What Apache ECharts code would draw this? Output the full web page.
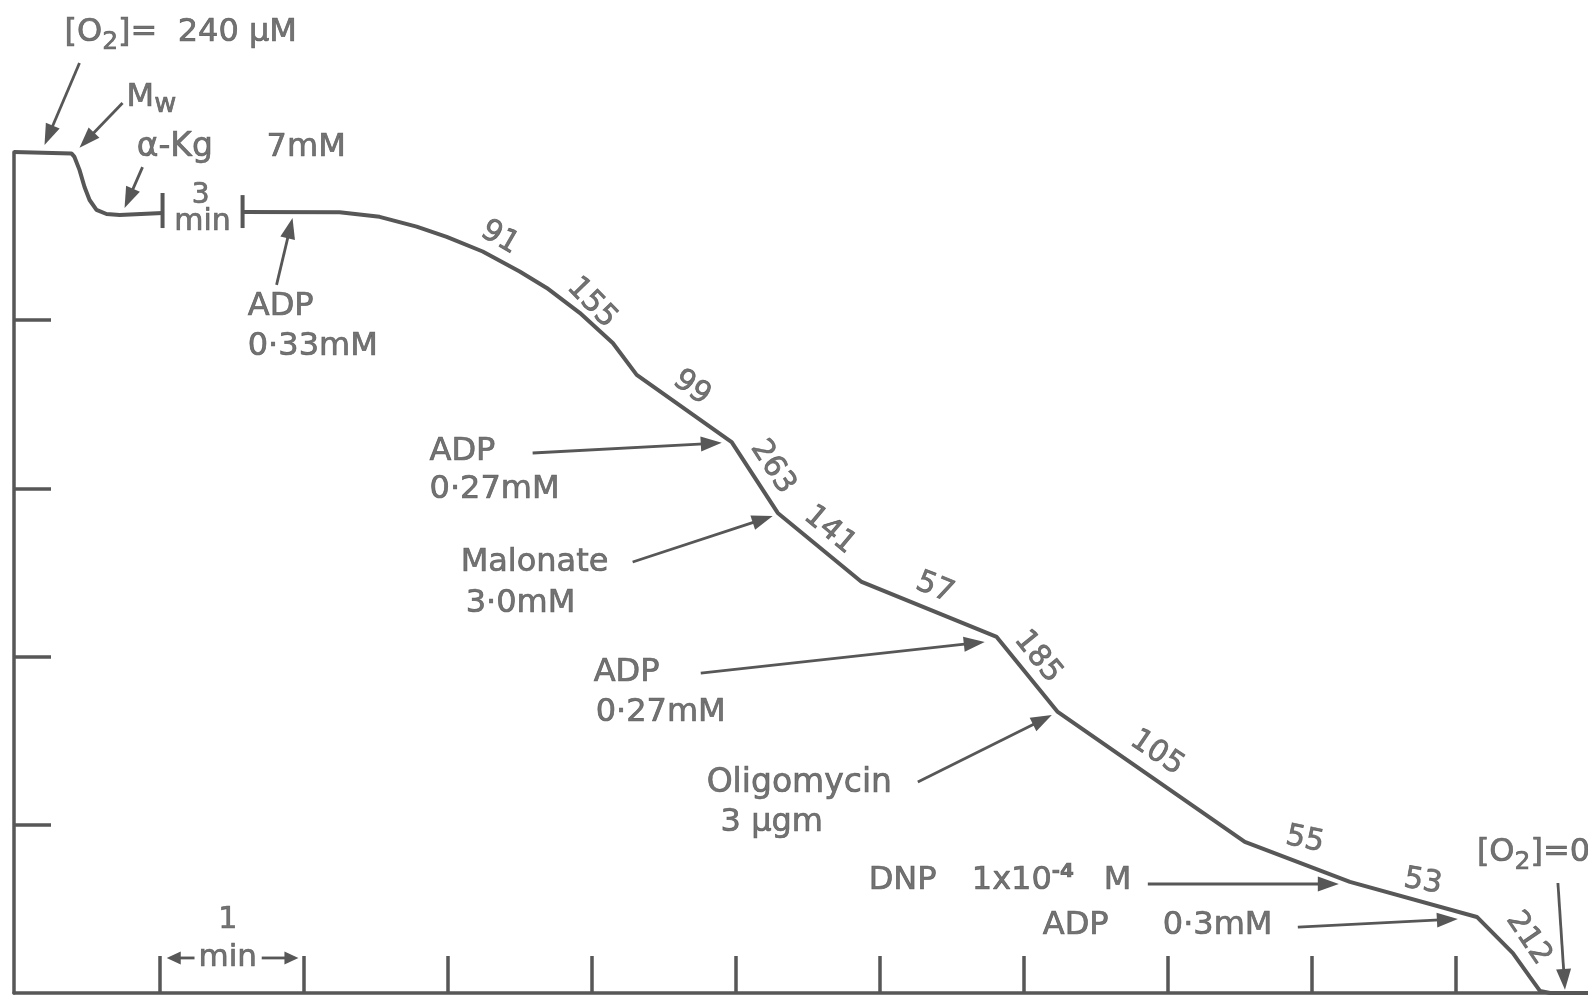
<!DOCTYPE html>
<html>
<head>
<meta charset="utf-8">
<script src="https://cdn.jsdelivr.net/npm/echarts@6/dist/echarts.min.js"></script>
<style>
  html, body { margin: 0; padding: 0; background: #ffffff; }
  #chart { width: 1588px; height: 996px; }
</style>
</head>
<body>
<div id="chart"></div>
<script>
// Oxygen electrode trace: [O2] (µM) against time (min), with additions and rates.

// axis marks
const minuteTicks = [0, 1, 2, 3, 4, 5, 6, 7, 8, 9];
const o2Ticks = [48, 96, 144, 192];

// trace before the 3-minute gap (air-saturated medium, Mw, α-Kg)
const traceBefore = [
  [-1.016, 240], [-0.617, 239.6], [-0.596, 238.6], [-0.561, 234.9], [-0.526, 230.0],
  [-0.491, 226.3], [-0.443, 223.5], [-0.373, 222.3], [-0.282, 222.0], [0.016, 222.6]
];

// trace after the gap (ADP, malonate, oligomycin, DNP additions)
const traceAfter = [
  [0.572, 222.9], [1.246, 222.8], [1.524, 221.5], [1.781, 218.7], [1.990, 215.8],
  [2.240, 211.6], [2.497, 205.9], [2.685, 201.2], [2.914, 194.1], [3.144, 185.5],
  [3.310, 176.4], [3.970, 157.2], [4.290, 137.0], [4.873, 117.3], [5.811, 101.6],
  [6.235, 80.2], [7.535, 43.1], [8.265, 31.7], [9.147, 21.7], [9.397, 11.4],
  [9.515, 4.6], [9.585, 0.6], [9.655, 0], [9.919, 0]
];

// end bars of the 3-minute gap: [time, low, high]
const gapBars = [[0.016, 218.3, 228.3], [0.572, 218.3, 227.7]];

// respiration rates written along the trace
const rateValues = [91, 155, 99, 263, 141, 57, 185, 105, 55, 53, 212];
const rateSpots = [
  [2.358, 215.5, -30], [2.997, 196.9, -46], [3.692, 172.7, -36], [4.255, 150.1, -57],
  [4.651, 132.1, -40], [5.381, 115.6, -22], [6.097, 95.9, -51], [6.924, 68.5, -34],
  [7.952, 43.7, -12], [8.772, 31.7, -10], [9.505, 15.6, -56]
];

// annotation texts and where they sit: [time, O2, align, size]
const noteTexts = [
  '[O{s|2}]=  240 µM', 'M{w|w}', 'α-Kg', '7mM', '3', 'min',
  'ADP', '0·33mM', 'ADP', '0·27mM', 'Malonate', '3·0mM',
  'ADP', '0·27mM', 'Oligomycin', '3 µgm',
  'DNP', '1x10{p|-4}', 'M', 'ADP', '0·3mM', '[O{s|2}]=0',
  '1', 'min'
];
const noteSpots = [
  [-0.665, 274.0, 'left', 32], [-0.234, 255.4, 'left', 32], [-0.164, 241.2, 'left', 33], [0.739, 241.2, 'left', 32],
  [0.280, 227.4, 'center', 28], [0.294, 220.0, 'center', 30],
  [0.608, 195.8, 'left', 32], [0.608, 184.4, 'left', 32],
  [1.871, 154.4, 'left', 32], [1.871, 143.6, 'left', 32],
  [2.087, 122.7, 'left', 32], [2.122, 111.0, 'left', 32],
  [3.011, 91.3, 'left', 32], [3.025, 79.9, 'left', 32],
  [3.796, 59.9, 'left', 33], [3.893, 48.5, 'left', 32],
  [4.922, 32.0, 'left', 32], [5.638, 32.0, 'left', 32], [6.555, 32.0, 'left', 32],
  [6.131, 19.1, 'left', 32], [6.965, 19.1, 'left', 32],
  [9.147, 40.0, 'left', 32],
  [0.469, 20.8, 'center', 30], [0.469, 10.0, 'center', 31]
];

// pointer arrows: [fromTime, fromO2, toTime, toO2]
const pointers = [
  [-0.561, 265.4, -0.804, 242.0],
  [-0.262, 254.0, -0.561, 241.2],
  [-0.123, 235.7, -0.248, 224.0],
  [0.808, 202.1, 0.919, 221.2],
  [2.587, 154.1, 3.901, 157.0],
  [3.282, 123.0, 4.255, 136.1],
  [3.755, 91.3, 5.728, 100.2],
  [5.263, 60.2, 6.194, 79.3],
  [6.861, 31.1, 8.188, 31.1],
  [7.903, 18.8, 9.015, 21.1],
  [9.710, 31.4, 9.759, 0.9]
];
// the small arrows of the 1-min scale bar
const scaleArrows = [
  [0.238, 10.0, 0.045, 10.0],
  [0.705, 10.0, 0.960, 10.0]
];

const INK = '#575757';
const TEXT = '#505050';
const FONT = 'DejaVu Sans';

function arrowRenderer(head, half, width) {
  return function (params, api) {
    const a = api.coord([api.value(0), api.value(1)]);
    const b = api.coord([api.value(2), api.value(3)]);
    const dx = b[0] - a[0], dy = b[1] - a[1];
    const len = Math.hypot(dx, dy) || 1;
    const ux = dx / len, uy = dy / len;
    const bx = b[0] - ux * head, by = b[1] - uy * head;
    return {
      type: 'group',
      children: [
        { type: 'line', shape: { x1: a[0], y1: a[1], x2: bx + ux * 3, y2: by + uy * 3 },
          style: { stroke: INK, lineWidth: width } },
        { type: 'polygon',
          shape: { points: [[b[0], b[1]], [bx - uy * half, by + ux * half], [bx + uy * half, by - ux * half]] },
          style: { fill: INK } }
      ]
    };
  };
}

const chart = echarts.init(document.getElementById('chart'), null, { renderer: 'canvas' });

const noteData = noteTexts.map((t, i) => ({
  value: [noteSpots[i][0], noteSpots[i][1]],
  label: { formatter: t, align: noteSpots[i][2], fontSize: noteSpots[i][3] }
}));

const rateData = rateValues.map((v, i) => ({
  value: [rateSpots[i][0], rateSpots[i][1]],
  label: { formatter: String(v), rotate: rateSpots[i][2] }
}));

const traceLine = { color: INK, width: 4 };
const textInk = { color: TEXT, textBorderColor: TEXT, textBorderWidth: 0.7 };

chart.setOption({
  animation: false,
  backgroundColor: '#ffffff',
  grid: { left: 14, right: 0, top: 152, bottom: 3, containLabel: false },
  xAxis: {
    type: 'value', min: -1.016, max: 9.919,
    axisLine: { show: true, onZero: false, lineStyle: { color: INK, width: 3.5 } },
    axisTick: { show: true, inside: true, length: 37, customValues: minuteTicks,
                lineStyle: { color: INK, width: 3.5 } },
    axisLabel: { show: false },
    splitLine: { show: false }
  },
  yAxis: {
    type: 'value', min: 0, max: 240,
    axisLine: { show: true, onZero: false, lineStyle: { color: INK, width: 3.5 } },
    axisTick: { show: true, inside: true, length: 37, customValues: o2Ticks,
                lineStyle: { color: INK, width: 3.5 } },
    axisLabel: { show: false },
    splitLine: { show: false }
  },
  series: [
    { type: 'line', data: traceBefore, showSymbol: false, symbol: 'none', clip: false,
      lineStyle: traceLine, silent: true },
    { type: 'line', data: traceAfter, showSymbol: false, symbol: 'none', clip: false,
      lineStyle: traceLine, silent: true },
    { type: 'custom', coordinateSystem: 'cartesian2d', clip: false, silent: true,
      data: gapBars, encode: { x: 0, y: [1, 2] },
      renderItem: function (params, api) {
        const lo = api.coord([api.value(0), api.value(1)]);
        const hi = api.coord([api.value(0), api.value(2)]);
        return { type: 'line', shape: { x1: lo[0], y1: lo[1], x2: hi[0], y2: hi[1] },
                 style: { stroke: INK, lineWidth: 4 } };
      } },
    { type: 'custom', coordinateSystem: 'cartesian2d', clip: false, silent: true,
      data: pointers, encode: { x: [0, 2], y: [1, 3] },
      renderItem: arrowRenderer(21, 7.5, 2.8) },
    { type: 'custom', coordinateSystem: 'cartesian2d', clip: false, silent: true,
      data: scaleArrows, encode: { x: [0, 2], y: [1, 3] },
      renderItem: arrowRenderer(14, 6.5, 2.8) },
    { type: 'scatter', data: rateData, symbol: 'circle', symbolSize: 1, clip: false, silent: true,
      itemStyle: { color: 'rgba(0,0,0,0)' },
      label: Object.assign({ show: true, position: 'inside', align: 'center', verticalAlign: 'middle',
               fontFamily: FONT, fontSize: 30 }, textInk) },
    { type: 'scatter', data: noteData, symbol: 'circle', symbolSize: 1, clip: false, silent: true,
      itemStyle: { color: 'rgba(0,0,0,0)' },
      label: Object.assign({ show: true, position: 'inside', verticalAlign: 'middle',
               fontFamily: FONT, fontSize: 32,
               rich: {
                 s: Object.assign({ fontFamily: FONT, fontSize: 25, padding: [20, 0, 0, 0] }, textInk),
                 w: Object.assign({ fontFamily: FONT, fontSize: 27, padding: [14, 0, 0, 0] }, textInk),
                 p: Object.assign({ fontFamily: FONT, fontSize: 20, fontWeight: 'bold', padding: [0, 0, 18, 0] }, textInk)
               } }, textInk) }
  ]
});
</script>
</body>
</html>
